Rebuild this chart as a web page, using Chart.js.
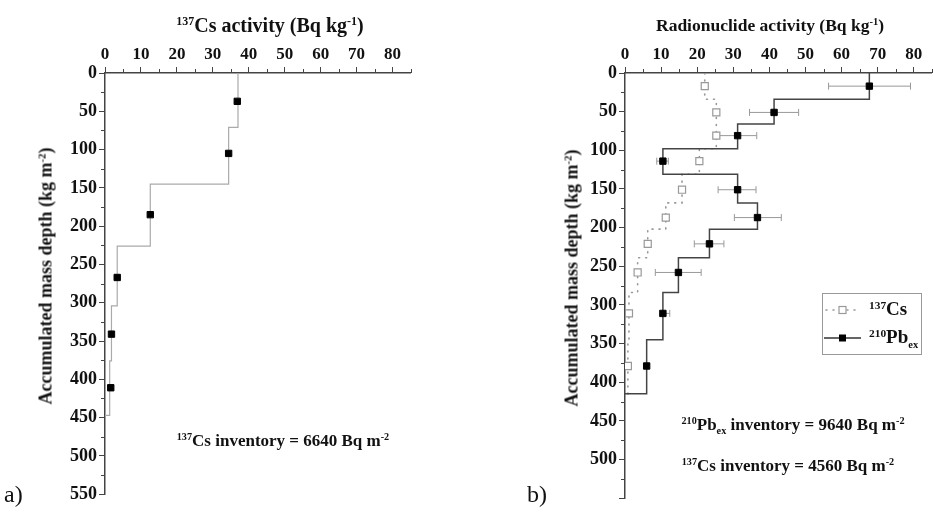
<!DOCTYPE html>
<html>
<head>
<meta charset="utf-8">
<script src="https://cdn.jsdelivr.net/npm/chart.js@4"></script>
<style>
  html, body { margin: 0; padding: 0; background: #fff; overflow: hidden; }
  body { width: 933px; height: 512px; position: relative; font-family: "Liberation Serif", "Times New Roman", serif; color: #111; }
  canvas { position: absolute; top: 0; }
  .txt { position: absolute; white-space: nowrap; font-weight: bold; transform: translate(-50%, -50%); }
  .txt sup { font-size: 0.6em; vertical-align: 0.55em; line-height: 0; }
  .txt sub { font-size: 0.6em; vertical-align: -0.35em; line-height: 0; }
  .ann { font-size: 17px; }
  .yt { font-size: 18px; transform: translate(-50%, -50%) rotate(-90deg); }
  .lab { position: absolute; font-size: 24px; font-weight: normal; }
  #legend { position: absolute; left: 822px; top: 293px; width: 98px; height: 60px; border: 1px solid #999; }
  #legend .row { position: absolute; left: 0; height: 24px; }
  #legend svg { position: absolute; left: 0; top: 0; }
  #legend span { position: absolute; left: 46px; font-size: 19px; font-weight: bold; white-space: nowrap; }
  #legend sup { font-size: 0.6em; vertical-align: 0.55em; line-height: 0; }
  #legend sub { font-size: 0.55em; vertical-align: -0.5em; line-height: 0; }
</style>
</head>
<body>
<canvas id="chart-a" width="416" height="507" style="left:0px"></canvas>
<canvas id="chart-b" width="418" height="511" style="left:520px"></canvas>

<div class="txt" style="left:270px; top:25px; font-size:20px"><sup>137</sup>Cs activity (Bq kg<sup>-1</sup>)</div>
<div class="txt" style="left:770px; top:25px; font-size:17.5px">Radionuclide activity (Bq kg<sup>-1</sup>)</div>
<div class="txt yt" style="left:46px; top:276px">Accumulated mass depth (kg m<sup>-2</sup>)</div>
<div class="txt yt" style="left:572px; top:278px">Accumulated mass depth (kg m<sup>-2</sup>)</div>
<div class="txt ann" style="left:283px; top:441px"><sup>137</sup>Cs inventory = 6640 Bq m<sup>-2</sup></div>
<div class="txt ann" style="left:793px; top:425px"><sup>210</sup>Pb<sub>ex</sub> inventory = 9640 Bq m<sup>-2</sup></div>
<div class="txt ann" style="left:788px; top:466px"><sup>137</sup>Cs inventory = 4560 Bq m<sup>-2</sup></div>
<div class="lab" style="left:4px; top:481px">a)</div>
<div class="lab" style="left:527px; top:481px">b)</div>

<div id="legend">
  <div class="row" style="top:4px">
    <svg width="46" height="24"><line x1="3" y1="12" x2="38" y2="12" stroke="#999" stroke-width="1.6" stroke-dasharray="1 6" stroke-linecap="round"/><rect x="16" y="8.5" width="7" height="7" fill="#fff" stroke="#999" stroke-width="1.2"/></svg>
    <span style="top:0px"><sup>137</sup>Cs</span>
  </div>
  <div class="row" style="top:32px">
    <svg width="46" height="24"><line x1="1" y1="12" x2="38" y2="12" stroke="#333" stroke-width="1.5"/><rect x="16" y="8.5" width="7" height="7" fill="#000"/></svg>
    <span style="top:0px"><sup>210</sup>Pb<sub>ex</sub></span>
  </div>
</div>

<script>
// Panel a: 137Cs profile
var depthBoundsA = [0, 71, 145, 226, 304, 376, 447];
var csStepA = [37, 34.4, 12.6, 3.4, 1.8, 1.3];
var csDepthA = [37, 105, 185, 267, 341, 411];
var csActA = [36.8, 34.4, 12.6, 3.4, 1.8, 1.6];

// Panel b: 210Pbex and 137Cs profiles
var depthBoundsB = [0, 34, 66, 98, 131, 168, 202, 239, 284, 345, 415];
var pbStepB = [67.7, 41.3, 31.2, 10.5, 31.2, 36.7, 23.4, 14.8, 10.5, 6.0];
var pbDepthB = [17, 51, 81, 114, 151, 187, 221, 258, 311, 379];
var pbActB = [67.7, 41.3, 31.2, 10.5, 31.2, 36.7, 23.4, 14.8, 10.5, 6.0];
var pbErrLowB = [56.4, 34.5, 25.6, 8.8, 25.8, 30.3, 19.2, 8.4, 9.7, 6.0];
var pbErrHighB = [79.1, 48.1, 36.5, 12.0, 36.3, 43.3, 27.4, 21.1, 12.4, 6.0];
var csStepB = [22.1, 25.3, 25.3, 20.6, 15.8, 11.3, 6.3, 3.5, 1.1, 0.8];
var csDepthB = [17, 51, 81, 114, 151, 187, 221, 258, 311, 379];
var csActB = [22.1, 25.3, 25.3, 20.6, 15.8, 11.3, 6.3, 3.5, 1.1, 0.8];

// axis ticks
var xMajorStep = 10, xMinorStep = 5, xMax = 85;
var yMajorStep = 50, yMinorStep = 25, yMax = 550;

var serif = '"Liberation Serif", "Times New Roman", serif';
var xTickFont = { family: serif, size: 17, weight: 'bold' };
var yTickFont = { family: serif, size: 18, weight: 'bold' };
var axisColor = '#444';

function stepPoints(bounds, vals) {
  var pts = [];
  vals.forEach(function (v, i) {
    pts.push({ x: v, y: bounds[i] });
    pts.push({ x: v, y: bounds[i + 1] });
  });
  pts.push({ x: 0, y: bounds[bounds.length - 1] });
  return pts;
}

function toPoints(xs, ys) {
  return xs.map(function (x, i) { return { x: x, y: ys[i] }; });
}

// short in-between ticks, placed through the chart's own scales
var minorTicks = {
  id: 'minorTicks',
  afterDraw: function (chart) {
    var ctx = chart.ctx, xs = chart.scales.x, ys = chart.scales.y;
    ctx.save();
    ctx.strokeStyle = axisColor;
    ctx.lineWidth = 1;
    ctx.beginPath();
    for (var v = xMinorStep; v <= xMax; v += xMajorStep) {
      var px = Math.round(xs.getPixelForValue(v)) + 0.5;
      ctx.moveTo(px, xs.bottom);
      ctx.lineTo(px, xs.bottom - 4);
    }
    for (var w = yMinorStep; w <= yMax; w += yMajorStep) {
      var py = Math.round(ys.getPixelForValue(w)) + 0.5;
      ctx.moveTo(ys.right, py);
      ctx.lineTo(ys.right - 4, py);
    }
    ctx.stroke();
    ctx.restore();
  }
};

// horizontal error bars for datasets that carry errLow / errHigh
var errorBars = {
  id: 'errorBars',
  beforeDatasetsDraw: function (chart) {
    var ctx = chart.ctx, xs = chart.scales.x, ys = chart.scales.y;
    ctx.save();
    ctx.strokeStyle = '#999';
    ctx.lineWidth = 1;
    chart.data.datasets.forEach(function (ds) {
      if (!ds.errLow) return;
      ds.data.forEach(function (p, i) {
        if (ds.errHigh[i] - ds.errLow[i] < 0.5) return;
        var x1 = xs.getPixelForValue(ds.errLow[i]);
        var x2 = xs.getPixelForValue(ds.errHigh[i]);
        var y = ys.getPixelForValue(p.y);
        ctx.beginPath();
        ctx.moveTo(x1, y); ctx.lineTo(x2, y);
        ctx.moveTo(x1, y - 3.5); ctx.lineTo(x1, y + 3.5);
        ctx.moveTo(x2, y - 3.5); ctx.lineTo(x2, y + 3.5);
        ctx.stroke();
      });
    });
    ctx.restore();
  }
};

function makeScales(hideLast) {
  return {
    x: {
      type: 'linear', position: 'top', min: 0, max: xMax,
      grid: { drawOnChartArea: false, drawTicks: true, tickLength: 6, color: axisColor, tickWidth: 1 },
      border: { display: true, color: axisColor, width: 1.5 },
      ticks: { stepSize: xMajorStep, includeBounds: false, font: xTickFont, color: '#111', padding: 2, maxRotation: 0 },
      afterFit: function (s) { s.height = 73; }
    },
    y: {
      type: 'linear', position: 'left', reverse: true, min: 0, max: yMax,
      grid: { drawOnChartArea: false, drawTicks: true, tickLength: 6, color: axisColor, tickWidth: 1 },
      border: { display: true, color: axisColor, width: 1.5 },
      ticks: {
        stepSize: yMajorStep, font: yTickFont, color: '#111', padding: 2,
        callback: function (v) { return (hideLast && v === yMax) ? '' : v; }
      },
      afterFit: function (s) { s.width = 105; }
    }
  };
}

function baseOptions(hideLast) {
  return {
    responsive: false,
    animation: false,
    devicePixelRatio: 1,
    layout: { padding: { top: 0, right: 0, bottom: 8, left: 0 } },
    plugins: { legend: { display: false }, tooltip: { enabled: false } },
    scales: makeScales(hideLast)
  };
}

// Chart.js paints dataset 0 last, so markers come first to sit on top of the step lines
new Chart(document.getElementById('chart-a'), {
  type: 'scatter',
  data: {
    datasets: [
      {
        label: '137Cs',
        data: toPoints(csActA, csDepthA),
        pointStyle: 'rect', pointRadius: 4.5,
        backgroundColor: '#000', borderColor: '#000', borderWidth: 1
      },
      {
        label: 'step',
        data: stepPoints(depthBoundsA, csStepA),
        showLine: true, pointRadius: 0,
        borderColor: '#aaa', borderWidth: 1.2
      }
    ]
  },
  options: baseOptions(false),
  plugins: [minorTicks]
});

new Chart(document.getElementById('chart-b'), {
  type: 'scatter',
  data: {
    datasets: [
      {
        label: '210Pbex',
        data: toPoints(pbActB, pbDepthB),
        errLow: pbErrLowB, errHigh: pbErrHighB,
        pointStyle: 'rect', pointRadius: 4.5,
        backgroundColor: '#000', borderColor: '#000', borderWidth: 1
      },
      {
        label: '137Cs',
        data: toPoints(csActB, csDepthB),
        pointStyle: 'rect', pointRadius: 5,
        backgroundColor: '#fff', borderColor: '#999', borderWidth: 1.2
      },
      {
        label: 'pb step',
        data: stepPoints(depthBoundsB, pbStepB),
        showLine: true, pointRadius: 0,
        borderColor: '#444', borderWidth: 1.5
      },
      {
        label: 'cs step',
        data: stepPoints(depthBoundsB, csStepB),
        showLine: true, pointRadius: 0,
        borderColor: '#999', borderWidth: 1.6, borderDash: [1, 6], borderCapStyle: 'round'
      }
    ]
  },
  options: baseOptions(true),
  plugins: [minorTicks, errorBars]
});
</script>
</body>
</html>
